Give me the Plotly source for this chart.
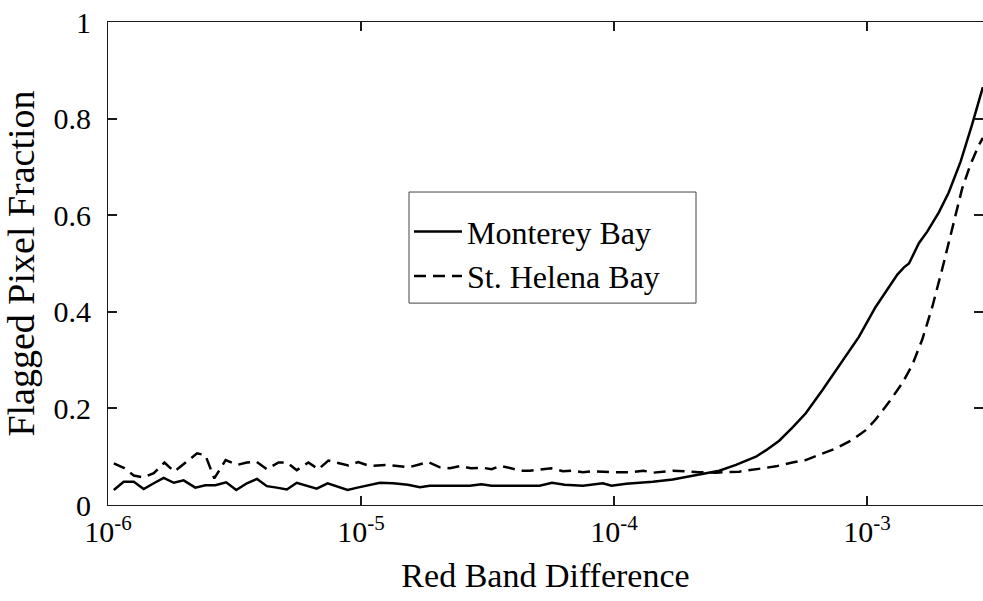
import numpy as np
import plotly.graph_objects as go

# Monterey Bay: log10(red band difference) and flagged pixel fraction
mb_log10_rbd = [
    -5.977, -5.938, -5.898, -5.859, -5.819, -5.780, -5.740, -5.701, -5.655, -5.615,
    -5.576, -5.533, -5.493, -5.451, -5.411, -5.372, -5.333, -5.293, -5.254, -5.214,
    -5.175, -5.132, -5.093, -5.053, -5.014, -4.974, -4.925, -4.873, -4.815, -4.767,
    -4.728, -4.669, -4.609, -4.570, -4.524, -4.484, -4.412, -4.353, -4.294, -4.245,
    -4.195, -4.123, -4.044, -4.010, -3.952, -3.899, -3.847, -3.768, -3.702, -3.636,
    -3.584, -3.518, -3.439, -3.400, -3.347, -3.295, -3.242, -3.176, -3.117, -3.071,
    -3.032, -2.966, -2.913, -2.880, -2.854, -2.834, -2.795, -2.762, -2.716, -2.677,
    -2.630, -2.585, -2.542,
]
mb_fraction = [
    0.031, 0.048, 0.048, 0.033, 0.045, 0.056, 0.046, 0.051, 0.036, 0.041,
    0.041, 0.047, 0.031, 0.045, 0.054, 0.039, 0.036, 0.032, 0.046, 0.040,
    0.034, 0.045, 0.038, 0.031, 0.036, 0.041, 0.046, 0.045, 0.042, 0.037,
    0.040, 0.040, 0.040, 0.040, 0.043, 0.040, 0.040, 0.040, 0.040, 0.046,
    0.042, 0.040, 0.045, 0.040, 0.044, 0.046, 0.048, 0.053, 0.060, 0.066,
    0.071, 0.083, 0.100, 0.113, 0.133, 0.160, 0.190, 0.238, 0.283, 0.320,
    0.348, 0.410, 0.452, 0.477, 0.492, 0.500, 0.542, 0.566, 0.606, 0.647,
    0.711, 0.787, 0.865,
]

# St. Helena Bay: log10(red band difference) and flagged pixel fraction
sh_log10_rbd = [
    -5.977, -5.938, -5.898, -5.859, -5.819, -5.777, -5.738, -5.694, -5.648, -5.615,
    -5.580, -5.535, -5.490, -5.451, -5.414, -5.372, -5.326, -5.293, -5.254, -5.208,
    -5.168, -5.129, -5.050, -5.011, -4.968, -4.892, -4.811, -4.735, -4.688, -4.649,
    -4.606, -4.566, -4.518, -4.484, -4.448, -4.366, -4.333, -4.248, -4.202, -4.163,
    -4.123, -4.085, -4.010, -3.926, -3.884, -3.844, -3.768, -3.663, -3.597, -3.505,
    -3.439, -3.360, -3.295, -3.242, -3.189, -3.123, -3.058, -3.005, -2.966, -2.913,
    -2.861, -2.821, -2.782, -2.742, -2.703, -2.663, -2.624, -2.591, -2.558, -2.542,
]
sh_fraction = [
    0.086, 0.077, 0.061, 0.057, 0.066, 0.088, 0.069, 0.088, 0.107, 0.103,
    0.055, 0.093, 0.083, 0.088, 0.090, 0.074, 0.088, 0.088, 0.072, 0.088,
    0.074, 0.092, 0.082, 0.089, 0.081, 0.083, 0.078, 0.089, 0.078, 0.076,
    0.081, 0.076, 0.077, 0.074, 0.081, 0.071, 0.071, 0.076, 0.070, 0.071,
    0.068, 0.070, 0.068, 0.068, 0.071, 0.067, 0.071, 0.068, 0.067, 0.069,
    0.074, 0.080, 0.088, 0.093, 0.104, 0.117, 0.135, 0.155, 0.177, 0.213,
    0.252, 0.290, 0.342, 0.410, 0.488, 0.575, 0.655, 0.705, 0.745, 0.760,
]

x_tick_vals = [1e-6, 1e-5, 1e-4, 1e-3]
x_tick_text = ["10<sup>-6</sup>", "10<sup>-5</sup>", "10<sup>-4</sup>", "10<sup>-3</sup>"]
x_minor_mantissas = [2, 3, 4, 5, 6, 7, 8, 9]
y_tick_vals = [0, 0.2, 0.4, 0.6, 0.8, 1]
y_tick_text = ["0", "0.2", "0.4", "0.6", "0.8", "1"]

FONT = "Liberation Serif, Times New Roman, serif"
AXIS_COLOR = "#1a1a1a"
X_RANGE = [-6, -2.5415]

x_minor_vals = [m * d for d in x_tick_vals for m in x_minor_mantissas]

fig = go.Figure()
fig.add_trace(go.Scatter(
    x=10 ** np.array(mb_log10_rbd), y=mb_fraction, mode="lines",
    name="Monterey Bay", line=dict(color="black", width=2.5),
))
fig.add_trace(go.Scatter(
    x=10 ** np.array(sh_log10_rbd), y=sh_fraction, mode="lines",
    name="St. Helena Bay", line=dict(color="black", width=2.5, dash="12px,7px"),
))

axis_common = dict(
    showline=True, linecolor=AXIS_COLOR, linewidth=1.2, mirror="ticks",
    ticks="inside", tickcolor=AXIS_COLOR, tickwidth=1.5,
    showgrid=False, zeroline=False,
    tickfont=dict(family=FONT, size=30, color="black"),
)

fig.update_layout(
    xaxis=dict(
        type="log", range=X_RANGE,
        tickmode="array", tickvals=x_tick_vals, ticktext=x_tick_text, ticklen=9,
        title=dict(text="Red Band Difference", font=dict(family=FONT, size=34, color="black"), standoff=16),
        **axis_common,
    ),
    # unlabeled log minor ticks, top and bottom
    xaxis2=dict(
        type="log", range=X_RANGE, overlaying="x", anchor="y", side="bottom",
        tickmode="array", tickvals=x_minor_vals, ticks="inside", ticklen=5,
        tickcolor=AXIS_COLOR, tickwidth=1.5, showticklabels=False, showline=False,
        mirror="ticks", showgrid=False, zeroline=False,
    ),
    yaxis=dict(
        range=[0, 1], tickmode="array", tickvals=y_tick_vals, ticktext=y_tick_text, ticklen=9,
        ticklabelstandoff=10,
        title=dict(text="Flagged Pixel Fraction", font=dict(family=FONT, size=38, color="black"), standoff=10),
        **axis_common,
    ),
)

# legend frame (wider than the auto-sized legend box)
leg_x0, leg_x1 = 0.344, 0.672
leg_y0, leg_y1 = 0.418, 0.648
fig.add_shape(
    type="rect", xref="paper", yref="paper",
    x0=leg_x0, x1=leg_x1, y0=leg_y0, y1=leg_y1,
    line=dict(color="#444", width=1), fillcolor="white", layer="above",
)

fig.update_layout(
    width=983, height=601,
    margin=dict(l=108, r=0, t=22, b=96),
    paper_bgcolor="white", plot_bgcolor="white",
    showlegend=True,
    legend=dict(
        x=leg_x0, y=leg_y1 - 0.025, xanchor="left", yanchor="top",
        bgcolor="rgba(0,0,0,0)", borderwidth=0,
        font=dict(family=FONT, size=32, color="black"),
        itemwidth=48,
    ),
)

fig.write_html("out.html")
